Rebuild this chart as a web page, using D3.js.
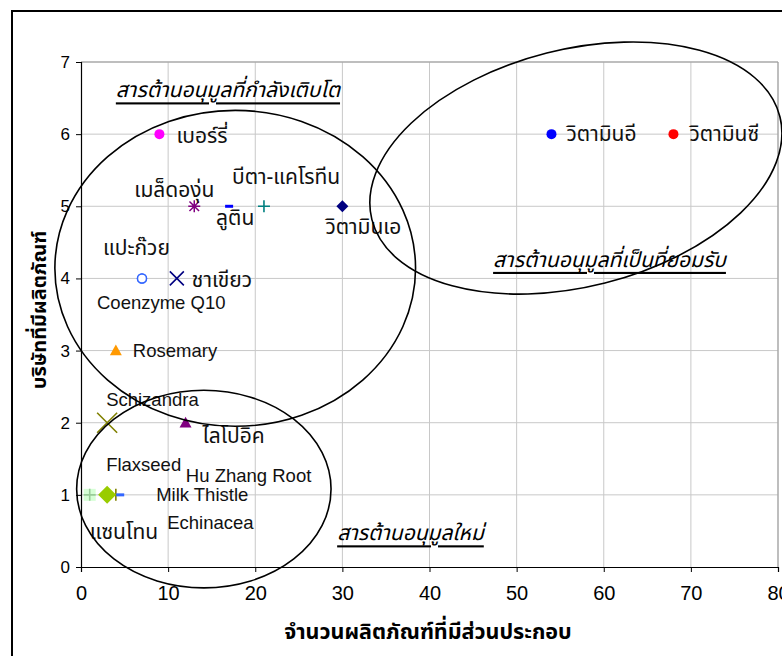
<!DOCTYPE html>
<html>
<head>
<meta charset="utf-8">
<script src="https://cdn.jsdelivr.net/npm/d3@7"></script>
<style>
  html, body { margin: 0; padding: 0; background: #fff; }
  svg { display: block; }
  .thai { font-family: Tahoma, "Noto Sans Thai", "Loma", "Garuda", "DejaVu Sans", sans-serif; }
</style>
</head>
<body>
<svg id="chart" width="782" height="656"></svg>
<script>
// Antioxidant ingredients: number of products containing them vs number of companies
const ingredients = ["วิตามินซี", "วิตามินอี", "เบอร์รี่", "วิตามินเอ", "บีตา-แคโรทีน", "ลูติน",
  "เมล็ดองุ่น", "ชาเขียว", "แปะก๊วย", "Coenzyme Q10", "Rosemary", "Schizandra", "ไลโปอิค",
  "Flaxseed", "Hu Zhang Root", "Milk Thistle", "Echinacea", "แซนโทน"];
const productCounts = [68, 54, 9, 30, 21, 17, 13, 11, 7, 7, 4, 3, 12, 3, 4, 3, 4.5, 1];
const companyCounts = [6, 6, 6, 5, 5, 5, 5, 4, 4, 4, 3, 2, 2, 1, 1, 1, 1, 1];

const xTicks = [0, 10, 20, 30, 40, 50, 60, 70, 80];
const yTicks = [0, 1, 2, 3, 4, 5, 6, 7];

const xTitle = "จำนวนผลิตภัณฑ์ที่มีส่วนประกอบ";
const yTitle = "บริษัทที่มีผลิตภัณฑ์";

// Grouping annotations (centre and radii in data units)
const groupNames = ["สารต้านอนุมูลที่กำลังเติบโต", "สารต้านอนุมูลที่เป็นที่ยอมรับ", "สารต้านอนุมูลใหม่"];
const groupCx = [17.7, 56.8, 14.1];
const groupCy = [4.14, 5.53, 1.08];
const groupRx = [20.7, 24.15, 14.6];
const groupRy = [2.19, 1.644, 1.37];
const groupLabelX = [4.0, 47.3, 29.4];
const groupLabelY = [6.6, 4.25, 0.46];

// Marker look per ingredient
const markerStyle = {
  "วิตามินซี":     { shape: "circle", color: "#ff0000" },
  "วิตามินอี":     { shape: "circle", color: "#0000ff" },
  "เบอร์รี่":      { shape: "circle", color: "#ff00ff" },
  "วิตามินเอ":     { shape: "diamond", color: "#000080", size: 6 },
  "บีตา-แคโรทีน":  { shape: "plus", color: "#008080", size: 6 },
  "ลูติน":         { shape: "dash", color: "#0000ff" },
  "เมล็ดองุ่น":    { shape: "star", color: "#800080", size: 6 },
  "ชาเขียว":       { shape: "x", color: "#000080", size: 7 },
  "แปะก๊วย":       { shape: "ring", color: "#3366ff" },
  "Coenzyme Q10":  { shape: "ring", color: "#3366ff" },
  "Rosemary":      { shape: "triangle", color: "#ff9900", size: 6 },
  "Schizandra":    { shape: "x", color: "#808000", size: 10 },
  "ไลโปอิค":       { shape: "triangle", color: "#800080", size: 6 },
  "Flaxseed":      { shape: "diamond", color: "#99cc00", size: 5 },
  "Hu Zhang Root": { shape: "plus", color: "#808000", size: 6 },
  "Milk Thistle":  { shape: "diamond", color: "#99cc00", size: 9 },
  "Echinacea":     { shape: "dash", color: "#3366ff" },
  "แซนโทน":        { shape: "plus", color: "#99cc99", size: 6, halo: "#ccffcc" }
};

// Label placement relative to each marker, in pixels
const labelOffset = {
  "วิตามินซี": [16, 0], "วิตามินอี": [15, 0], "เบอร์รี่": [17, 2],
  "วิตามินเอ": [-17, 21], "บีตา-แคโรทีน": [-32, -29], "ลูติน": [-13, 12],
  "เมล็ดองุ่น": [-60, -16], "ชาเขียว": [15, 2], "แปะก๊วย": [-39, -30],
  "Coenzyme Q10": [-45, 24], "Rosemary": [17, 0], "Schizandra": [-1, -23],
  "ไลโปอิค": [17, 14], "Flaxseed": [-1, -30], "Hu Zhang Root": [70, -19],
  "Milk Thistle": [49, 0], "Echinacea": [47, 28], "แซนโทน": [0, 38]
};

const svg = d3.select("#chart");

// Outer chart frame
svg.append("path")
  .attr("d", "M12,660 L12,11 L790,11")
  .attr("fill", "none").attr("stroke", "#000").attr("stroke-width", 2);

const plotLeft = 81, plotRight = 778, plotTop = 62, plotBottom = 567;
const x = d3.scaleLinear().domain([0, 80]).range([plotLeft, plotRight]);
const y = d3.scaleLinear().domain([0, 7]).range([plotBottom, plotTop]);

// Gridlines
svg.append("g").selectAll("line").data(xTicks.slice(1)).join("line")
  .attr("x1", d => x(d)).attr("x2", d => x(d)).attr("y1", plotTop).attr("y2", plotBottom)
  .attr("stroke", "#c8c8c8").attr("stroke-width", 1);
svg.append("g").selectAll("line").data(yTicks.slice(1)).join("line")
  .attr("x1", plotLeft).attr("x2", plotRight).attr("y1", d => y(d)).attr("y2", d => y(d))
  .attr("stroke", "#c8c8c8").attr("stroke-width", 1);
// plot frame (top and right)
svg.append("path")
  .attr("d", `M${plotLeft},${plotTop} L${plotRight},${plotTop} L${plotRight},${plotBottom}`)
  .attr("fill", "none").attr("stroke", "#999").attr("stroke-width", 1);

// Axes
const xAxis = svg.append("g").attr("transform", `translate(0,${plotBottom})`)
  .call(d3.axisBottom(x).tickValues(xTicks).tickSize(5).tickPadding(14).tickFormat(d3.format("d")));
xAxis.selectAll("text").attr("font-family", "'Liberation Sans Narrow', 'Liberation Sans', Arial, sans-serif")
  .attr("font-size", 20).attr("fill", "#000");
const yAxis = svg.append("g").attr("transform", `translate(${plotLeft},0)`)
  .call(d3.axisLeft(y).tickValues(yTicks).tickSize(5).tickPadding(6).tickFormat(d3.format("d")));
yAxis.selectAll("text").attr("font-family", "'Liberation Sans', Arial, sans-serif")
  .attr("font-size", 17).attr("fill", "#000");
[xAxis, yAxis].forEach(a => {
  a.select(".domain").attr("stroke", "#000").attr("stroke-width", 1.2);
  a.selectAll(".tick line").attr("stroke", "#000");
});

// Axis titles
svg.append("text").attr("class", "thai")
  .attr("x", 428).attr("y", 632).attr("text-anchor", "middle").attr("dominant-baseline", "central")
  .attr("font-size", 21.5).attr("font-weight", "bold").text(xTitle);
svg.append("text").attr("class", "thai")
  .attr("transform", "translate(40,310) rotate(-90)")
  .attr("text-anchor", "middle").attr("dominant-baseline", "central")
  .attr("font-size", 20).attr("font-weight", "bold").text(yTitle);

// Markers
const points = ingredients.map((n, i) => ({ name: n, px: x(productCounts[i]), py: y(companyCounts[i]), st: markerStyle[n] }));
const marks = svg.append("g");
points.forEach(p => {
  const g = marks.append("g").attr("transform", `translate(${p.px},${p.py})`);
  const s = p.st, r = s.size || 5, c = s.color;
  switch (s.shape) {
    case "circle":
      g.append("circle").attr("r", 5).attr("fill", c); break;
    case "ring":
      g.append("circle").attr("r", 4.5).attr("fill", "#fff").attr("stroke", c).attr("stroke-width", 1.5); break;
    case "diamond":
      g.append("path").attr("d", `M0,${-r}L${r},0L0,${r}L${-r},0Z`).attr("fill", c); break;
    case "triangle":
      g.append("path").attr("d", `M0,${-r}L${r},${r * 0.8}L${-r},${r * 0.8}Z`).attr("fill", c); break;
    case "plus":
      if (s.halo) g.append("rect").attr("x", -r).attr("y", -r).attr("width", 2 * r).attr("height", 2 * r).attr("fill", s.halo).attr("opacity", 0.8);
      g.append("path").attr("d", `M${-r},0H${r}M0,${-r}V${r}`).attr("stroke", c).attr("stroke-width", 1.6); break;
    case "x":
      g.append("path").attr("d", `M${-r},${-r}L${r},${r}M${-r},${r}L${r},${-r}`).attr("stroke", c).attr("stroke-width", 1.6); break;
    case "star":
      g.append("path").attr("d", `M${-r},0H${r}M${-r * 0.8},${-r * 0.8}L${r * 0.8},${r * 0.8}M${-r * 0.8},${r * 0.8}L${r * 0.8},${-r * 0.8}M0,${-r}V${r}`)
        .attr("stroke", c).attr("stroke-width", 1.5); break;
    case "dash":
      g.append("rect").attr("x", -4).attr("y", -1.5).attr("width", 8).attr("height", 3).attr("fill", c); break;
  }
});

// Point labels
const isLatin = n => /[A-Za-z]/.test(n);
svg.append("g").selectAll("text").data(points).join("text")
  .attr("class", d => isLatin(d.name) ? null : "thai")
  .attr("font-family", d => isLatin(d.name) ? "'Liberation Sans', Arial, sans-serif" : null)
  .attr("x", d => d.px + labelOffset[d.name][0])
  .attr("y", d => d.py + labelOffset[d.name][1])
  .attr("dominant-baseline", "central")
  .attr("font-size", d => isLatin(d.name) ? 18.5 : 21).attr("fill", "#111")
  .text(d => d.name);

// Group ellipses and their captions
const groups = groupNames.map((n, i) => ({ name: n, i }));
svg.append("g").selectAll("ellipse").data(groups).join("ellipse")
  .attr("cx", d => x(groupCx[d.i])).attr("cy", d => y(groupCy[d.i]))
  .attr("rx", d => x(groupRx[d.i]) - x(0)).attr("ry", d => y(0) - y(groupRy[d.i]))
  .attr("transform", d => d.i === 1 ? `rotate(-14.2,${x(groupCx[d.i])},${y(groupCy[d.i])})` : null)
  .attr("fill", "none").attr("stroke", "#000").attr("stroke-width", 1.6);

svg.append("g").selectAll("text").data(groups).join("text")
  .attr("class", "thai")
  .attr("x", d => x(groupLabelX[d.i])).attr("y", d => y(groupLabelY[d.i]))
  .attr("dominant-baseline", "central")
  .attr("font-size", 21).attr("font-style", "italic").attr("text-decoration", "underline")
  .attr("fill", "#000")
  .text(d => d.name);
</script>
</body>
</html>
